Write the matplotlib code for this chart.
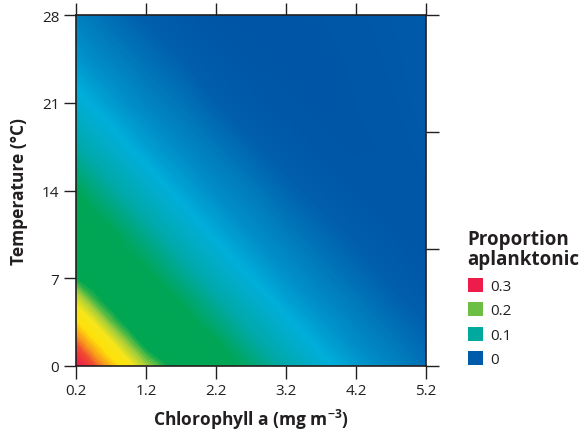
import numpy as np
import matplotlib
matplotlib.use('Agg')
import matplotlib.pyplot as plt
from matplotlib.colors import LinearSegmentedColormap
from matplotlib.patches import Patch

plt.rcParams['font.family'] = ['Open Sans', 'DejaVu Sans']
plt.rcParams['mathtext.fontset'] = 'custom'
plt.rcParams['mathtext.rm'] = 'Open Sans'
plt.rcParams['mathtext.bf'] = 'Open Sans:bold'

# Grid nodes of the surface (denser near the low-chlorophyll / cold corner)
chl = [0.2, 0.45, 0.7, 0.95, 1.2, 1.7, 2.2, 2.7, 3.2, 3.7, 4.2, 4.7, 5.2]
temp = [0, 1.75, 3.5, 5.25, 7, 10.5, 14, 17.5, 21, 24.5, 28]

# Proportion aplanktonic at each node, one row per temperature
prop_t00 = [0.300, 0.290, 0.272, 0.255, 0.232, 0.200, 0.197, 0.165, 0.125, 0.090, 0.065, 0.047, 0.033]
prop_t02 = [0.288, 0.269, 0.252, 0.228, 0.206, 0.200, 0.184, 0.140, 0.102, 0.074, 0.053, 0.040, 0.026]
prop_t03 = [0.266, 0.248, 0.223, 0.204, 0.200, 0.193, 0.158, 0.118, 0.085, 0.062, 0.045, 0.032, 0.020]
prop_t05 = [0.243, 0.219, 0.203, 0.200, 0.200, 0.176, 0.134, 0.098, 0.070, 0.051, 0.038, 0.024, 0.012]
prop_t07 = [0.212, 0.202, 0.200, 0.200, 0.190, 0.150, 0.110, 0.080, 0.058, 0.043, 0.030, 0.018, 0.008]
prop_t10 = [0.200, 0.197, 0.185, 0.165, 0.145, 0.105, 0.076, 0.055, 0.041, 0.028, 0.016, 0.007, 0.003]
prop_t14 = [0.180, 0.158, 0.137, 0.118, 0.100, 0.072, 0.052, 0.040, 0.025, 0.014, 0.005, 0.002, 0.005]
prop_t17 = [0.130, 0.110, 0.095, 0.080, 0.068, 0.050, 0.037, 0.023, 0.012, 0.004, 0.001, 0.003, 0.008]
prop_t21 = [0.090, 0.076, 0.065, 0.055, 0.047, 0.035, 0.020, 0.010, 0.003, 0.000, 0.002, 0.005, 0.010]
prop_t24 = [0.062, 0.052, 0.045, 0.039, 0.032, 0.020, 0.009, 0.002, 0.000, 0.000, 0.003, 0.007, 0.010]
prop_t28 = [0.043, 0.037, 0.030, 0.023, 0.018, 0.008, 0.000, 0.000, 0.000, 0.002, 0.005, 0.008, 0.012]

legend_values = ['0.3', '0.2', '0.1', '0']
legend_colors = ['#ED1C4B', '#6CBE45', '#00A99D', '#005BAA']

INK = '#231F20'
VMAX = 0.30

cmap = LinearSegmentedColormap.from_list('aplank', [
    (0.000 / VMAX, '#0055A6'),
    (0.020 / VMAX, '#005FAD'),
    (0.045 / VMAX, '#0082C0'),
    (0.080 / VMAX, '#00AEDA'),
    (0.130 / VMAX, '#00A9A6'),
    (0.180 / VMAX, '#00A656'),
    (0.212 / VMAX, '#00A651'),
    (0.232 / VMAX, '#A6CE39'),
    (0.250 / VMAX, '#F6E51A'),
    (0.265 / VMAX, '#FFE10A'),
    (0.280 / VMAX, '#F7941D'),
    (0.292 / VMAX, '#EF3E36'),
    (0.300 / VMAX, '#EE1C4B'),
])

grid = np.array([prop_t00, prop_t02, prop_t03, prop_t05, prop_t07, prop_t10,
                 prop_t14, prop_t17, prop_t21, prop_t24, prop_t28])

fig = plt.figure(figsize=(5.84, 4.35), dpi=100)
ax = fig.add_axes([76 / 584, 68 / 435, 350 / 584, 351 / 435])

ax.contourf(chl, temp, grid, levels=np.linspace(0, VMAX, 301), cmap=cmap,
            vmin=0, vmax=VMAX, extend='both', antialiased=False)
ax.set_xlim(chl[0], chl[-1])
ax.set_ylim(temp[0], temp[-1])

ax.set_xticks([0.2, 1.2, 2.2, 3.2, 4.2, 5.2])
ax.set_xticklabels(['0.2', '1.2', '2.2', '3.2', '4.2', '5.2'])
ax.set_yticks([0, 7, 14, 21, 28])
ax.tick_params(direction='out', length=9, width=1, color=INK, labelcolor=INK,
               labelsize=11, pad=3, top=True)
for s in ax.spines.values():
    s.set_color(INK)
    s.set_linewidth(1.2)

# right-hand ticks split the temperature range in thirds
ax2 = ax.twinx()
ax2.set_ylim(temp[0], temp[-1])
ax2.set_yticks([0, 28 / 3, 56 / 3, 28])
ax2.set_yticklabels([])
ax2.tick_params(direction='out', length=9, width=1, color=INK)
for s in ax2.spines.values():
    s.set_visible(False)

ax.set_xlabel(r'Chlorophyll a (mg m$^{\mathbf{-3}}$)', fontsize=12.5,
              fontweight='bold', color=INK, labelpad=7)
ax.set_ylabel('Temperature (°C)', fontsize=12.5, fontweight='bold',
              color=INK, labelpad=10)

handles = [Patch(facecolor=c, edgecolor='none') for c in legend_colors]
leg = fig.legend(handles, legend_values, loc='upper left',
                 bbox_to_anchor=(454 / 584, 1 - 216 / 435),
                 title='Proportion\naplanktonic', frameon=False,
                 fontsize=11, handlelength=1.0, handleheight=1.0,
                 handletextpad=0.5, labelspacing=0.55, alignment='left',
                 title_fontproperties={'weight': 'bold', 'size': 13.5})
for t in leg.get_texts():
    t.set_color(INK)
leg.get_title().set_color(INK)
leg.get_title().set_linespacing(1.05)

fig.savefig('out.png', dpi=100, facecolor='white')
